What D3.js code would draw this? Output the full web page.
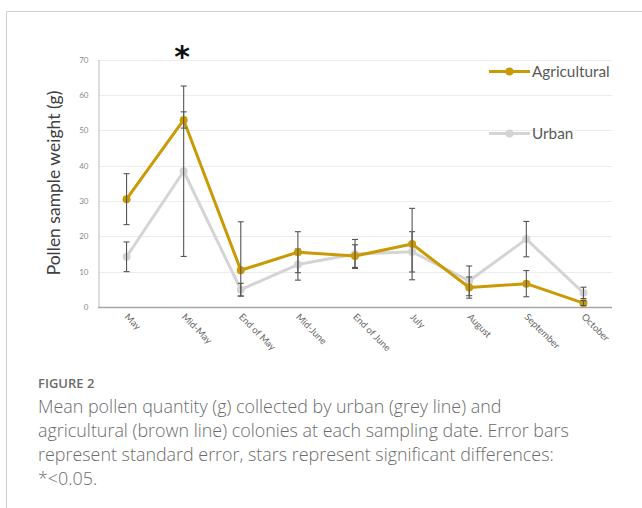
<!DOCTYPE html>
<html>
<head>
<meta charset="utf-8">
<script src="https://cdn.jsdelivr.net/npm/d3@7/dist/d3.min.js"></script>
<style>
  html, body { margin: 0; padding: 0; background: #fff; }
  svg { display: block; }
</style>
</head>
<body>
<script>
// Sampling dates
const categories = ["May", "Mid-May", "End of May", "Mid-June", "End of June", "July", "August", "September", "October"];

// Mean pollen weight (g) per colony type
const agricultural = [30.5, 52.9, 10.4, 15.5, 14.4, 17.8, 5.5, 6.6, 1.1];
const urban        = [14.2, 38.4, 4.9, 12.0, 15.0, 15.6, 7.4, 19.2, 4.0];

// Standard error (plus / minus) for each series
const agriErrPlus  = [7.2, 2.3, 13.7, 5.8, 3.2, 10.1, 3.0, 3.7, 0.7];
const agriErrMinus = [7.2, 2.3, 7.3, 5.8, 3.2, 10.1, 3.0, 3.7, 0.7];
const urbanErr     = [4.2, 24.1, 1.8, 4.4, 4.1, 5.7, 4.2, 5.0, 1.6];

// Significant differences
const stars = [{ category: "Mid-May", label: "*" }];

const yTicks = [0, 10, 20, 30, 40, 50, 60, 70];

const W = 642, H = 508;
const svg = d3.select("body").append("svg").attr("width", W).attr("height", H);

// Figure frame
svg.append("path")
  .attr("d", `M6.5,${H} V11.5 H${W}`)
  .attr("fill", "none").attr("stroke", "#cfcfcf").attr("stroke-width", 1);

const x = d3.scalePoint().domain(categories).range([98, 612]).padding(0.5);
const y = d3.scaleLinear().domain([0, 70]).range([307, 59.5]);

// Horizontal gridlines
svg.append("g").selectAll("line").data(yTicks.filter(d => d > 0)).join("line")
  .attr("x1", 98).attr("x2", 612)
  .attr("y1", d => Math.round(y(d)) + 0.5).attr("y2", d => Math.round(y(d)) + 0.5)
  .attr("stroke", "#ececec").attr("stroke-width", 1);

// Y axis
const yAxis = svg.append("g").attr("transform", "translate(98.5,0)")
  .call(d3.axisLeft(y).tickValues(yTicks).tickSize(0).tickPadding(10));
yAxis.select(".domain").attr("stroke", "#bdbdbd");
yAxis.selectAll("text").attr("font-family", "Lato, 'Open Sans', sans-serif")
  .attr("font-size", 8).attr("fill", "#8a8a8a");

// X axis
const xAxis = svg.append("g").attr("transform", "translate(0,307.5)")
  .call(d3.axisBottom(x).tickSize(0).tickPadding(0));
xAxis.select(".domain").attr("stroke", "#a6a6a6").attr("stroke-width", 1.5)
  .attr("d", "M98,0H612");
xAxis.selectAll("text")
  .attr("font-family", "Lato, 'Open Sans', sans-serif")
  .attr("font-size", 9.5).attr("fill", "#666")
  .attr("text-anchor", "start")
  .attr("dy", 0).attr("y", 0)
  .attr("transform", "translate(-3,10) rotate(45)");

// Y axis title
svg.append("text")
  .attr("transform", `translate(60,183) rotate(-90)`)
  .attr("text-anchor", "middle")
  .attr("font-family", "Lato, 'Open Sans', sans-serif")
  .attr("font-size", 17.5).attr("fill", "#404040")
  .text("Pollen sample weight (g)");

const agriColor = "#c99a06";
const urbanColor = "#d4d4d4";

// Error bars
function errorBars(values, plus, minus) {
  const g = svg.append("g").attr("stroke", "#555").attr("stroke-width", 1.1);
  categories.forEach((c, i) => {
    const cx = x(c);
    const yt = y(values[i] + plus[i]);
    const yb = y(Math.max(0, values[i] - minus[i]));
    g.append("line").attr("x1", cx).attr("x2", cx).attr("y1", yt).attr("y2", yb);
    g.append("line").attr("x1", cx - 3).attr("x2", cx + 3).attr("y1", yt).attr("y2", yt);
    g.append("line").attr("x1", cx - 3).attr("x2", cx + 3).attr("y1", yb).attr("y2", yb);
  });
}

// Series lines and markers
function series(values, color) {
  const line = d3.line().x((d, i) => x(categories[i])).y(d => y(d));
  svg.append("path").datum(values).attr("d", line)
    .attr("fill", "none").attr("stroke", color).attr("stroke-width", 3)
    .attr("stroke-linejoin", "round");
  svg.append("g").selectAll("circle").data(values).join("circle")
    .attr("cx", (d, i) => x(categories[i])).attr("cy", d => y(d))
    .attr("r", 4).attr("fill", color);
}

series(urban, urbanColor);
errorBars(urban, urbanErr, urbanErr);
series(agricultural, agriColor);
errorBars(agricultural, agriErrPlus, agriErrMinus);

// Significance stars
svg.append("g").selectAll("text").data(stars).join("text")
  .attr("x", d => x(d.category) - 1.5).attr("y", 67)
  .attr("text-anchor", "middle")
  .attr("font-family", "'DejaVu Sans', sans-serif").attr("font-weight", "bold")
  .attr("font-size", 30).attr("fill", "#111")
  .text(d => d.label);

// Legend
const legend = [
  { name: "Agricultural", color: agriColor, y: 71.5 },
  { name: "Urban", color: urbanColor, y: 133.5 }
];
const lg = svg.append("g").selectAll("g").data(legend).join("g")
  .attr("transform", d => `translate(489,${d.y})`);
lg.append("line").attr("x1", 0).attr("x2", 41).attr("y1", 0).attr("y2", 0)
  .attr("stroke", d => d.color).attr("stroke-width", 3);
lg.append("circle").attr("cx", 20.5).attr("cy", 0).attr("r", 4).attr("fill", d => d.color);
lg.append("text").attr("x", 43).attr("y", 0).attr("dy", "0.35em")
  .attr("font-family", "Lato, 'Open Sans', sans-serif")
  .attr("font-size", 15.3).attr("fill", "#595959")
  .text(d => d.name);

// Caption
svg.append("text").attr("x", 38).attr("y", 388)
  .attr("font-family", "'Open Sans', sans-serif").attr("font-weight", 600)
  .attr("font-size", 13).attr("fill", "#6b6b6b")
  .text("FIGURE 2");
const captionLines = [
  "Mean pollen quantity (g) collected by urban (grey line) and",
  "agricultural (brown line) colonies at each sampling date. Error bars",
  "represent standard error, stars represent significant differences:",
  "*<0.05."
];
svg.append("g").selectAll("text").data(captionLines).join("text")
  .attr("x", 38).attr("y", (d, i) => 413 + i * 24)
  .attr("font-family", "'Open Sans', sans-serif").attr("font-weight", 300)
  .attr("font-size", 17.9).attr("fill", "#6b6b6b")
  .text(d => d);
</script>
</body>
</html>
